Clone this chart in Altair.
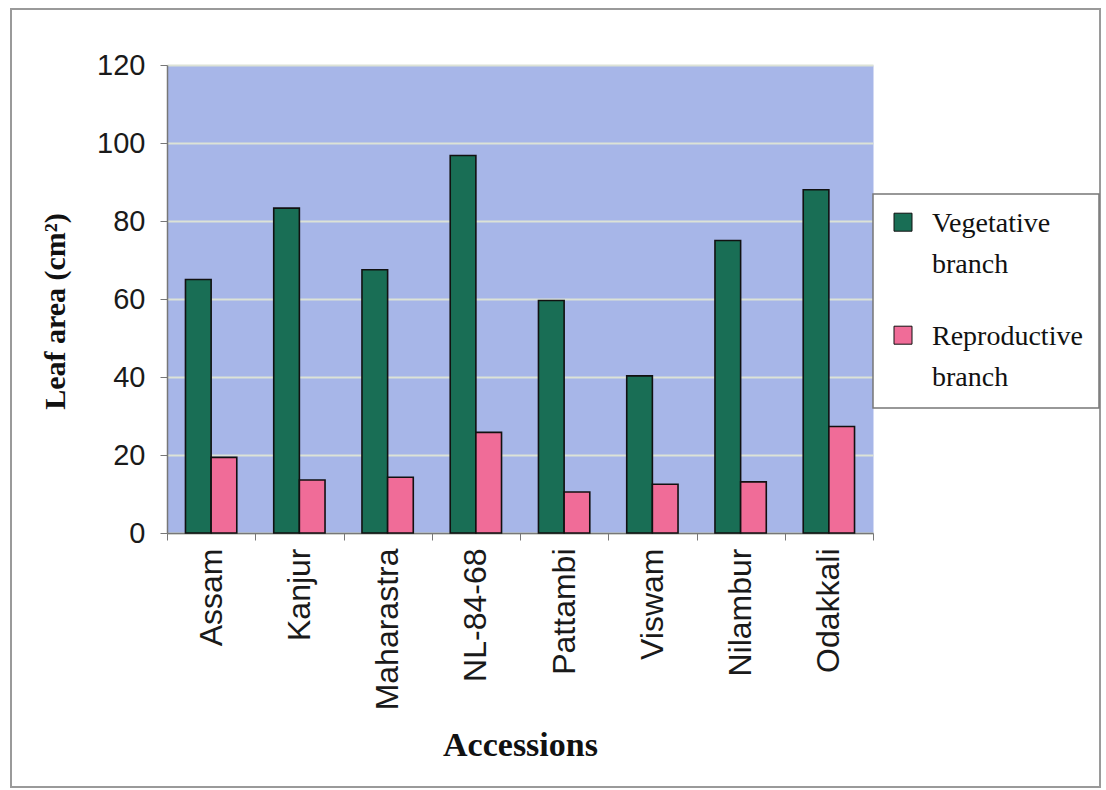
import altair as alt
import pandas as pd

# Leaf area per accession, vegetative vs reproductive branches
accessions = ["Assam", "Kanjur", "Maharastra", "NL-84-68", "Pattambi",
              "Viswam", "Nilambur", "Odakkali"]
vegetative = [65.0, 83.3, 67.5, 96.8, 59.6, 40.3, 75.0, 88.0]
reproductive = [19.4, 13.6, 14.3, 25.8, 10.5, 12.5, 13.1, 27.3]
series = ["Vegetative branch", "Reproductive branch"]
series_colors = ["#196E55", "#F06C98"]
y_ticks = [0, 20, 40, 60, 80, 100, 120]

rows = []
for name, v, r in zip(accessions, vegetative, reproductive):
    rows.append({"Accession": name, "Branch": series[0], "Area": v})
    rows.append({"Accession": name, "Branch": series[1], "Area": r})
df = pd.DataFrame(rows)

W, H = 706, 468

# square legend swatch shifted so it sits beside the first label line
raised_square = "M-1,-1.2H1V0.8H-1Z"

bars = alt.Chart(df).mark_bar(stroke="#111111", strokeWidth=1.6).encode(
    x=alt.X(
        "Accession:N",
        sort=accessions,
        scale=alt.Scale(paddingInner=0, paddingOuter=0),
        axis=alt.Axis(
            title="Accessions",
            labelAngle=-90,
            labelFont="Liberation Sans",
            labelFontSize=32,
            labelColor="#1a1a1a",
            labelPadding=8,
            tickBand="extent",
            tickSize=7,
            tickColor="#777777",
            domainColor="#777777",
            domainWidth=1.5,
            grid=False,
            titleFont="Liberation Serif",
            titleFontWeight="bold",
            titleFontSize=34,
            titleColor="#111111",
            titleX=W / 2,
            titleY=212,
            titleBaseline="middle",
        ),
    ),
    xOffset=alt.XOffset(
        "Branch:N",
        sort=series,
        scale=alt.Scale(paddingOuter=0.72, paddingInner=0),
    ),
    y=alt.Y(
        "Area:Q",
        scale=alt.Scale(domain=[0, 120], nice=False),
        axis=alt.Axis(
            title="Leaf area (cm²)",
            values=y_ticks,
            labelFont="Liberation Sans",
            labelFontSize=29,
            labelColor="#1a1a1a",
            labelPadding=15,
            tickSize=7,
            tickColor="#777777",
            domainColor="#777777",
            domainWidth=1.5,
            grid=True,
            gridColor="#DCE2D6",
            gridWidth=2,
            titleFont="Liberation Serif",
            titleFontWeight="bold",
            titleFontSize=30,
            titleColor="#111111",
            titleAngle=-90,
            titleX=-112,
            titleY=H / 2 + 12,
            titleAlign="center",
            titleBaseline="middle",
        ),
    ),
    color=alt.Color(
        "Branch:N",
        sort=series,
        scale=alt.Scale(domain=series, range=series_colors),
        legend=alt.Legend(
            title=None,
            orient="none",
            legendX=706,
            legendY=129,
            symbolType=raised_square,
            symbolSize=324,
            symbolStrokeColor="#111111",
            symbolStrokeWidth=1,
            labelFont="Liberation Serif",
            labelFontSize=28,
            labelColor="#111111",
            labelExpr="split(datum.label, ' ')",
            labelBaseline="middle",
            labelOffset=15,
            labelLimit=300,
            rowPadding=44,
            padding=16,
            strokeColor="#777777",
            fillColor="white",
        ),
    ),
)

frame = alt.Chart(pd.DataFrame({"k": [0]})).mark_rect(
    filled=False, stroke="#9a9a9a", strokeWidth=2
).encode(
    x=alt.value(-156), x2=alt.value(933), y=alt.value(-56), y2=alt.value(722)
)

chart = alt.layer(frame, bars).properties(
    width=W,
    height=H,
    autosize=alt.AutoSizeParams(type="none"),
    padding={"left": 167, "top": 65, "right": 233, "bottom": 257},
    background="white",
).configure(
    view=alt.ViewConfig(fill="#A7B6E8", stroke="transparent"),
    legend=alt.LegendConfig(strokeWidth=1.5),
    style={"guide-label": {"lineHeight": 41}},
)

chart.save("out.html", embed_options={"renderer": "svg", "actions": False})
